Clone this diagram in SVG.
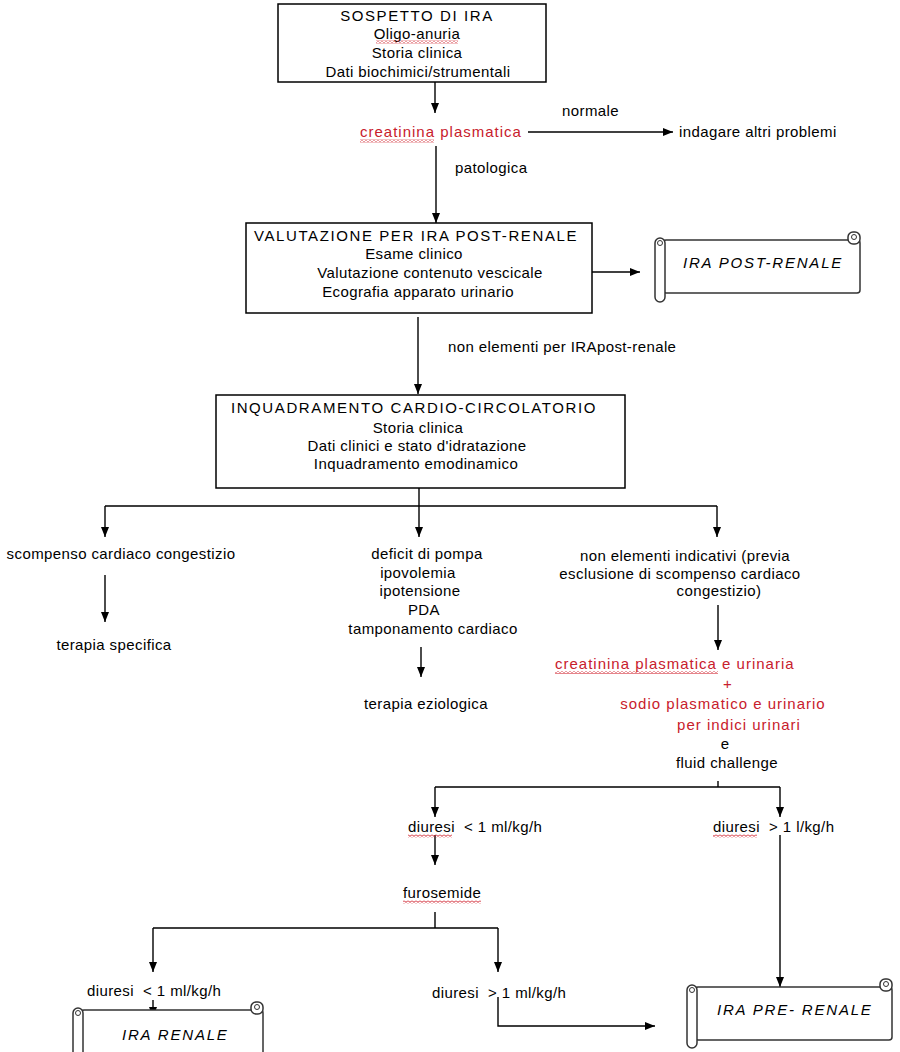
<svg xmlns="http://www.w3.org/2000/svg" width="900" height="1052" viewBox="0 0 900 1052">
<style>
text{font-family:"Liberation Sans",Arial,sans-serif;font-size:15px;fill:#000;letter-spacing:0.4px}
.c{text-anchor:middle}
.h{letter-spacing:1.6px}
.r{fill:#c8202c;letter-spacing:1px}
.it{font-style:italic;letter-spacing:1.8px}
.box{fill:#fff;stroke:#000;stroke-width:1.5}
.ln{fill:none;stroke:#000;stroke-width:1.4}
.ar{fill:none;stroke:#000;stroke-width:1.4;marker-end:url(#ah)}
.sc rect{fill:#fff;stroke:#333;stroke-width:1.5}
.sc circle{fill:none;stroke:#333;stroke-width:1}
.sq{fill:url(#sqp)}
</style>
<defs>
<marker id="ah" viewBox="0 0 10 8" refX="10" refY="4" markerWidth="10" markerHeight="8" markerUnits="userSpaceOnUse" orient="auto"><path d="M0,0 L10,4 L0,8 z" fill="#000"/></marker>
<pattern id="sqp" width="4" height="3" patternUnits="userSpaceOnUse"><path d="M0,0.6 L2,2.4 L4,0.6" fill="none" stroke="#d0202c" stroke-width="1"/></pattern>
</defs>
<rect width="900" height="1052" fill="#fff"/>

<g id="connectors">
<path class="ar" d="M435,82 V113"/>
<path class="ar" d="M528,132 H673"/>
<path class="ar" d="M436,146 V223"/>
<path class="ar" d="M592,272 H640"/>
<path class="ar" d="M418,317 V394"/>
<path class="ln" d="M419,488 V506 M105,506 H717"/>
<path class="ar" d="M105,506 V537"/>
<path class="ar" d="M419,506 V537"/>
<path class="ar" d="M717,506 V537"/>
<path class="ar" d="M105,575 V622"/>
<path class="ar" d="M421,647 V677"/>
<path class="ar" d="M718,605 V650"/>
<path class="ln" d="M718,781 V787 M435,787 H780"/>
<path class="ar" d="M435,787 V817"/>
<path class="ar" d="M780,787 V817"/>
<path class="ar" d="M435,835 V865"/>
<path class="ln" d="M435,912 V928 M153,928 H498"/>
<path class="ar" d="M153,928 V972"/>
<path class="ar" d="M498,928 V972"/>
<path class="ar" d="M153,1000 V1017"/>
<path class="ar" d="M498,997 V1026 H655"/>
<path class="ar" d="M780,835 V987"/>
</g>

<g id="n-sospetto">
<rect class="box" x="278" y="4" width="268" height="78"/>
<text class="c h" x="417" y="20.5">SOSPETTO DI IRA</text>
<text class="c" x="417" y="39">Oligo-anuria</text>
<rect class="sq" x="376" y="40.5" width="82" height="3"/>
<text class="c" x="417" y="58">Storia clinica</text>
<text class="c" x="418" y="77">Dati biochimici/strumentali</text>
</g>

<g id="n-creatinina">
<text class="r" x="360" y="137">creatinina plasmatica</text>
<rect class="sq" x="360" y="139.5" width="74" height="3"/>
</g>
<g id="l-normale"><text x="562" y="116">normale</text></g>
<g id="n-indagare"><text x="679" y="137">indagare altri problemi</text></g>
<g id="l-patologica"><text x="455" y="173">patologica</text></g>

<g id="n-postrenale-val">
<rect class="box" x="246" y="223" width="346" height="90"/>
<text class="c h" x="416" y="240.5">VALUTAZIONE PER IRA POST-RENALE</text>
<text class="c" x="414" y="259">Esame clinico</text>
<text class="c" x="430" y="278">Valutazione contenuto vescicale</text>
<text class="c" x="418" y="297">Ecografia apparato urinario</text>
</g>

<g id="n-ira-postrenale" class="sc">
<rect x="663" y="240" width="197" height="53" rx="3"/>
<rect x="848" y="232" width="12" height="12" rx="5"/>
<circle cx="854" cy="237" r="2.5"/>
<rect x="655" y="238" width="10" height="64" rx="5"/>
<circle cx="660" cy="243" r="2.5"/>
<text class="it" x="683" y="268">IRA POST-RENALE</text>
</g>

<g id="l-nonpost"><text x="448" y="352">non elementi per IRApost-renale</text></g>

<g id="n-cardio">
<rect class="box" x="216" y="395" width="409" height="93"/>
<text class="c h" x="414" y="412.5">INQUADRAMENTO CARDIO-CIRCOLATORIO</text>
<text class="c" x="418" y="432.5">Storia clinica</text>
<text class="c" x="417" y="450.5">Dati clinici e stato d'idratazione</text>
<text class="c" x="416" y="468.5">Inquadramento emodinamico</text>
</g>

<g id="n-scompenso"><text class="c" x="121" y="558.5">scompenso cardiaco congestizio</text></g>
<g id="n-terapia-spec"><text class="c" x="114" y="650">terapia specifica</text></g>

<g id="n-deficit">
<text class="c" x="427" y="558.5">deficit di pompa</text>
<text class="c" x="418" y="578">ipovolemia</text>
<text class="c" x="420" y="596">ipotensione</text>
<text class="c" x="424" y="614.5">PDA</text>
<text class="c" x="433" y="633.5">tamponamento cardiaco</text>
</g>
<g id="n-terapia-ez"><text class="c" x="426" y="708.5">terapia eziologica</text></g>

<g id="n-nonelementi">
<text class="c" x="685" y="560.5">non elementi indicativi (previa</text>
<text class="c" x="680" y="578.5">esclusione di scompenso cardiaco</text>
<text class="c" x="719" y="595.5">congestizio)</text>
</g>

<g id="n-indici">
<text class="r" x="555" y="668.5">creatinina plasmatica e urinaria</text>
<rect class="sq" x="555" y="671" width="163" height="3"/>
<text class="c r" x="728" y="688.5">+</text>
<text class="c r" x="723" y="708.5">sodio plasmatico e urinario</text>
<text class="c r" x="739" y="729.5">per indici urinari</text>
<text class="c" x="725" y="748.5">e</text>
<text class="c" x="727" y="767.5">fluid challenge</text>
</g>

<g id="n-diuresi-lt1">
<text x="408" y="832" xml:space="preserve">diuresi  &lt; 1 ml/kg/h</text>
<rect class="sq" x="408" y="834.5" width="44" height="3"/>
</g>
<g id="n-diuresi-gt1">
<text x="713" y="832" xml:space="preserve">diuresi  &gt; 1 l/kg/h</text>
<rect class="sq" x="713" y="834.5" width="44" height="3"/>
</g>
<g id="n-furosemide">
<text x="403" y="898">furosemide</text>
<rect class="sq" x="403" y="900.5" width="78" height="3"/>
</g>

<g id="n-diuresi-lt2"><text x="87" y="996" xml:space="preserve">diuresi  &lt; 1 ml/kg/h</text></g>
<g id="n-diuresi-gt2"><text x="432" y="998" xml:space="preserve">diuresi  &gt; 1 ml/kg/h</text></g>

<g id="n-ira-renale" class="sc">
<rect x="81" y="1010" width="182" height="60" rx="3"/>
<rect x="251" y="1002" width="12" height="12" rx="5"/>
<circle cx="257" cy="1007" r="2.5"/>
<rect x="73" y="1008" width="10" height="70" rx="5"/>
<circle cx="78" cy="1013" r="2.5"/>
<text class="it" x="122" y="1040">IRA RENALE</text>
</g>

<g id="n-ira-prerenale" class="sc">
<rect x="695" y="987" width="197" height="53" rx="3"/>
<rect x="880" y="979" width="12" height="12" rx="5"/>
<circle cx="886" cy="984" r="2.5"/>
<rect x="687" y="985" width="10" height="63" rx="5"/>
<circle cx="692" cy="990" r="2.5"/>
<text class="it" x="717" y="1015">IRA PRE- RENALE</text>
</g>
</svg>
